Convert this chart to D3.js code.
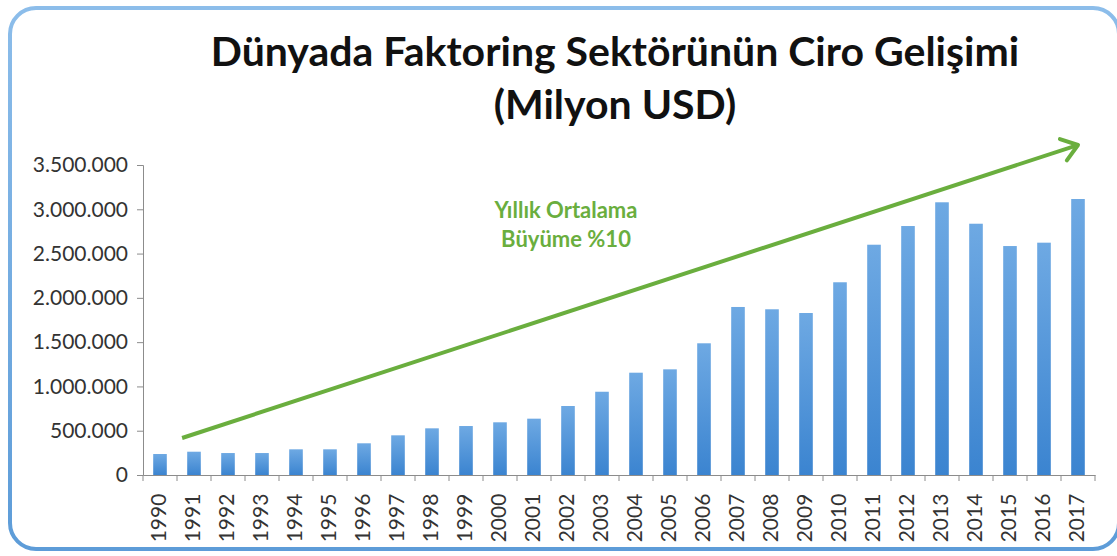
<!DOCTYPE html>
<html>
<head>
<meta charset="utf-8">
<script src="https://d3js.org/d3.v7.min.js"></script>
<style>
  body { margin: 0; background: #fff; }
</style>
</head>
<body>
<script>
// Chart data
const years = [1990, 1991, 1992, 1993, 1994, 1995, 1996, 1997, 1998, 1999,
  2000, 2001, 2002, 2003, 2004, 2005, 2006, 2007, 2008, 2009,
  2010, 2011, 2012, 2013, 2014, 2015, 2016, 2017];
const turnover = [237000, 263000, 248000, 248000, 290000, 290000, 358000, 448000, 527000, 553000,
  595000, 636000, 779000, 940000, 1155000, 1193000, 1487000, 1897000, 1871000, 1829000,
  2176000, 2600000, 2811000, 3079000, 2837000, 2585000, 2623000, 3116000];
const yTicks = [0, 500000, 1000000, 1500000, 2000000, 2500000, 3000000, 3500000];
const titleLines = ["Dünyada Faktoring Sektörünün Ciro Gelişimi", "(Milyon USD)"];
const noteLines = ["Yıllık Ortalama", "Büyüme %10"];
// trend arrow: [year position, value]
const trendArrow = [[1990.65, 418000], [2017, 3726000]];

const W = 1117, H = 556;
const margin = { top: 165, right: 22, bottom: 81, left: 143 };
const width = W - margin.left - margin.right;
const height = H - margin.top - margin.bottom;

const svg = d3.select("body").append("svg")
  .attr("width", W)
  .attr("height", H)
  .style("font-family", "Lato, 'Open Sans', sans-serif");

const defs = svg.append("defs");
const barGrad = defs.append("linearGradient")
  .attr("id", "barGrad").attr("x1", 0).attr("x2", 0).attr("y1", 0).attr("y2", 1);
barGrad.append("stop").attr("offset", "0%").attr("stop-color", "#6ea9e3");
barGrad.append("stop").attr("offset", "100%").attr("stop-color", "#3b84d0");

const borderGrad = defs.append("linearGradient")
  .attr("id", "borderGrad").attr("x1", 0).attr("x2", 0).attr("y1", 0).attr("y2", 1);
borderGrad.append("stop").attr("offset", "0%").attr("stop-color", "#8cbdea");
borderGrad.append("stop").attr("offset", "100%").attr("stop-color", "#5d9cd8");

// Frame (right edge runs off the picture)
svg.append("rect")
  .attr("x", 10).attr("y", 8)
  .attr("width", W - 8).attr("height", H - 15)
  .attr("rx", 26)
  .attr("fill", "#fff")
  .attr("stroke", "url(#borderGrad)")
  .attr("stroke-width", 4);

// Title
svg.append("g").selectAll("text")
  .data(titleLines)
  .join("text")
  .attr("x", 615)
  .attr("y", (d, i) => 66 + i * 53)
  .attr("text-anchor", "middle")
  .attr("font-size", 41)
  .attr("font-weight", "bold")
  .attr("fill", "#111")
  .text(d => d);

const g = svg.append("g")
  .attr("transform", `translate(${margin.left},${margin.top})`);

const x = d3.scaleBand()
  .domain(years)
  .range([0, width])
  .paddingInner(0.6)
  .paddingOuter(0.3);

const y = d3.scaleLinear()
  .domain([0, 3500000])
  .range([height, 0]);

// linear helper for arrow placement along the year axis
const xPos = d3.scaleLinear()
  .domain([years[0], years[years.length - 1]])
  .range([x(years[0]) + x.bandwidth() / 2, x(years[years.length - 1]) + x.bandwidth() / 2]);

const fmt = d3.formatLocale({ decimal: ",", thousands: ".", grouping: [3], currency: ["", ""] }).format(",d");

// Y axis
const yAxis = g.append("g")
  .call(d3.axisLeft(y).tickValues(yTicks).tickFormat(fmt).tickSize(6).tickPadding(9));
yAxis.selectAll("line, path").attr("stroke", "#8c8c8c");
yAxis.selectAll("text")
  .attr("font-size", 21)
  .attr("fill", "#333")
  .attr("font-family", "Lato, sans-serif");

// Bars
g.append("g").selectAll("rect")
  .data(years)
  .join("rect")
  .attr("x", d => x(d))
  .attr("y", (d, i) => y(turnover[i]))
  .attr("width", x.bandwidth())
  .attr("height", (d, i) => height - y(turnover[i]))
  .attr("fill", "url(#barGrad)");

// X axis with ticks between categories
const xAxis = g.append("g")
  .attr("transform", `translate(0,${height})`)
  .call(d3.axisBottom(x).tickSize(0).tickPadding(10));
xAxis.select("path").attr("stroke", "#8c8c8c");
xAxis.selectAll("text")
  .attr("font-size", 21)
  .attr("fill", "#333")
  .attr("font-family", "Lato, sans-serif")
  .attr("transform", "rotate(-90)")
  .attr("text-anchor", "end")
  .attr("dx", "-0.6em")
  .attr("dy", "-0.1em")
  .attr("y", 0)
  .attr("x", -6)
  .style("dominant-baseline", "central");
g.append("g").selectAll("line")
  .data(d3.range(years.length + 1))
  .join("line")
  .attr("x1", i => i * width / years.length)
  .attr("x2", i => i * width / years.length)
  .attr("y1", height)
  .attr("y2", height + 6)
  .attr("stroke", "#8c8c8c");

// Trend arrow
const ax1 = xPos(trendArrow[0][0]), ay1 = y(trendArrow[0][1]);
const ax2 = xPos(trendArrow[1][0]), ay2 = y(trendArrow[1][1]);
const ang = Math.atan2(ay2 - ay1, ax2 - ax1);
const headLen = 19, headAng = Math.PI / 5;
g.append("line")
  .attr("x1", ax1).attr("y1", ay1)
  .attr("x2", ax2 - 2 * Math.cos(ang)).attr("y2", ay2 - 2 * Math.sin(ang))
  .attr("stroke", "#6aae3e")
  .attr("stroke-width", 4);
g.append("path")
  .attr("d", d3.line()([
    [ax2 - headLen * Math.cos(ang - headAng), ay2 - headLen * Math.sin(ang - headAng)],
    [ax2, ay2],
    [ax2 - headLen * Math.cos(ang + headAng), ay2 - headLen * Math.sin(ang + headAng)]
  ]))
  .attr("fill", "none")
  .attr("stroke", "#6aae3e")
  .attr("stroke-width", 4)
  .attr("stroke-linecap", "round")
  .attr("stroke-linejoin", "round");

// Note
svg.append("g").selectAll("text")
  .data(noteLines)
  .join("text")
  .attr("x", 566)
  .attr("y", (d, i) => 218 + i * 29)
  .attr("text-anchor", "middle")
  .attr("font-size", 22)
  .attr("font-weight", "bold")
  .attr("fill", "#6aae3e")
  .text(d => d);
</script>
</body>
</html>
